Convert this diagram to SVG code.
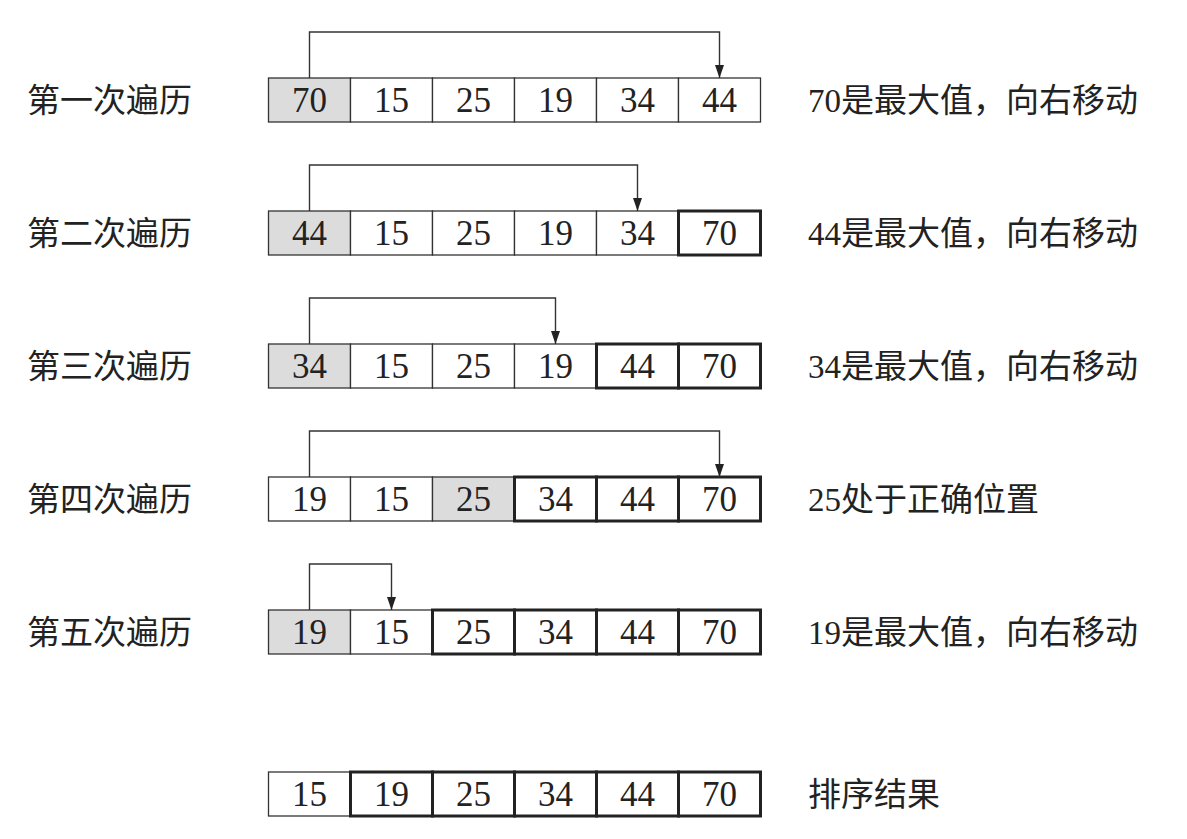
<svg xmlns="http://www.w3.org/2000/svg" width="1187" height="839" viewBox="0 0 1187 839">
<style>
.c{fill:#fff;stroke:#333;stroke-width:1.3}
.g{fill:#dcdcdc;stroke:#333;stroke-width:1.3}
.b{fill:none;stroke:#222;stroke-width:3}
.n{font-family:"Liberation Serif","Times New Roman",serif;font-size:35px;fill:#222;text-anchor:middle}
.t{font-family:"Liberation Serif","Noto Sans CJK SC",serif;font-size:33px;fill:#222}
.a{fill:none;stroke:#333;stroke-width:1.4}
</style>
<defs>
<marker id="ah" markerUnits="userSpaceOnUse" markerWidth="13" markerHeight="10" refX="13" refY="5" orient="auto"><path d="M0,0.5 L13,5 L0,9.5 z" fill="#222"/></marker>
</defs>
<rect width="1187" height="839" fill="#fff"/>
<g id="row1">
<text class="t" x="27" y="112">第一次遍历</text>
<rect class="g" x="268.5" y="78" width="82" height="44"/><rect class="c" x="350.5" y="78" width="82" height="44"/><rect class="c" x="432.5" y="78" width="82" height="44"/><rect class="c" x="514.5" y="78" width="82" height="44"/><rect class="c" x="596.5" y="78" width="82" height="44"/><rect class="c" x="678.5" y="78" width="82" height="44"/>
<text class="n" x="309.5" y="112">70</text><text class="n" x="391.5" y="112">15</text><text class="n" x="473.5" y="112">25</text><text class="n" x="555.5" y="112">19</text><text class="n" x="637.5" y="112">34</text><text class="n" x="719.5" y="112">44</text>
<text class="t" x="808" y="112">70是最大值，向右移动</text>
</g>
<g id="row2">
<text class="t" x="27" y="245">第二次遍历</text>
<rect class="g" x="268.5" y="211" width="82" height="44"/><rect class="c" x="350.5" y="211" width="82" height="44"/><rect class="c" x="432.5" y="211" width="82" height="44"/><rect class="c" x="514.5" y="211" width="82" height="44"/><rect class="c" x="596.5" y="211" width="82" height="44"/><rect class="c" x="678.5" y="211" width="82" height="44"/>
<rect class="b" x="678.5" y="211" width="82" height="44"/>
<text class="n" x="309.5" y="245">44</text><text class="n" x="391.5" y="245">15</text><text class="n" x="473.5" y="245">25</text><text class="n" x="555.5" y="245">19</text><text class="n" x="637.5" y="245">34</text><text class="n" x="719.5" y="245">70</text>
<text class="t" x="808" y="245">44是最大值，向右移动</text>
</g>
<g id="row3">
<text class="t" x="27" y="378">第三次遍历</text>
<rect class="g" x="268.5" y="344" width="82" height="44"/><rect class="c" x="350.5" y="344" width="82" height="44"/><rect class="c" x="432.5" y="344" width="82" height="44"/><rect class="c" x="514.5" y="344" width="82" height="44"/><rect class="c" x="596.5" y="344" width="82" height="44"/><rect class="c" x="678.5" y="344" width="82" height="44"/>
<rect class="b" x="596.5" y="344" width="82" height="44"/><rect class="b" x="678.5" y="344" width="82" height="44"/>
<text class="n" x="309.5" y="378">34</text><text class="n" x="391.5" y="378">15</text><text class="n" x="473.5" y="378">25</text><text class="n" x="555.5" y="378">19</text><text class="n" x="637.5" y="378">44</text><text class="n" x="719.5" y="378">70</text>
<text class="t" x="808" y="378">34是最大值，向右移动</text>
</g>
<g id="row4">
<text class="t" x="27" y="511">第四次遍历</text>
<rect class="c" x="268.5" y="477" width="82" height="44"/><rect class="c" x="350.5" y="477" width="82" height="44"/><rect class="g" x="432.5" y="477" width="82" height="44"/><rect class="c" x="514.5" y="477" width="82" height="44"/><rect class="c" x="596.5" y="477" width="82" height="44"/><rect class="c" x="678.5" y="477" width="82" height="44"/>
<rect class="b" x="514.5" y="477" width="82" height="44"/><rect class="b" x="596.5" y="477" width="82" height="44"/><rect class="b" x="678.5" y="477" width="82" height="44"/>
<text class="n" x="309.5" y="511">19</text><text class="n" x="391.5" y="511">15</text><text class="n" x="473.5" y="511">25</text><text class="n" x="555.5" y="511">34</text><text class="n" x="637.5" y="511">44</text><text class="n" x="719.5" y="511">70</text>
<text class="t" x="808" y="511">25处于正确位置</text>
</g>
<g id="row5">
<text class="t" x="27" y="644">第五次遍历</text>
<rect class="g" x="268.5" y="610" width="82" height="44"/><rect class="c" x="350.5" y="610" width="82" height="44"/><rect class="c" x="432.5" y="610" width="82" height="44"/><rect class="c" x="514.5" y="610" width="82" height="44"/><rect class="c" x="596.5" y="610" width="82" height="44"/><rect class="c" x="678.5" y="610" width="82" height="44"/>
<rect class="b" x="432.5" y="610" width="82" height="44"/><rect class="b" x="514.5" y="610" width="82" height="44"/><rect class="b" x="596.5" y="610" width="82" height="44"/><rect class="b" x="678.5" y="610" width="82" height="44"/>
<text class="n" x="309.5" y="644">19</text><text class="n" x="391.5" y="644">15</text><text class="n" x="473.5" y="644">25</text><text class="n" x="555.5" y="644">34</text><text class="n" x="637.5" y="644">44</text><text class="n" x="719.5" y="644">70</text>
<text class="t" x="808" y="644">19是最大值，向右移动</text>
</g>
<g id="result">
<rect class="c" x="268.5" y="772" width="82" height="44"/>
<rect class="b" x="350.5" y="772" width="82" height="44"/><rect class="b" x="432.5" y="772" width="82" height="44"/><rect class="b" x="514.5" y="772" width="82" height="44"/><rect class="b" x="596.5" y="772" width="82" height="44"/><rect class="b" x="678.5" y="772" width="82" height="44"/>
<text class="n" x="309.5" y="806">15</text><text class="n" x="391.5" y="806">19</text><text class="n" x="473.5" y="806">25</text><text class="n" x="555.5" y="806">34</text><text class="n" x="637.5" y="806">44</text><text class="n" x="719.5" y="806">70</text>
<text class="t" x="808" y="806">排序结果</text>
</g>
<g id="connectors">
<path class="a" d="M309.5,78 V32 H719.5 V78" marker-end="url(#ah)"/>
<path class="a" d="M309.5,211 V165 H637.5 V211" marker-end="url(#ah)"/>
<path class="a" d="M309.5,344 V298 H555.5 V344" marker-end="url(#ah)"/>
<path class="a" d="M309.5,477 V431 H719.5 V477" marker-end="url(#ah)"/>
<path class="a" d="M309.5,610 V564 H391.5 V610" marker-end="url(#ah)"/>
</g>
</svg>
